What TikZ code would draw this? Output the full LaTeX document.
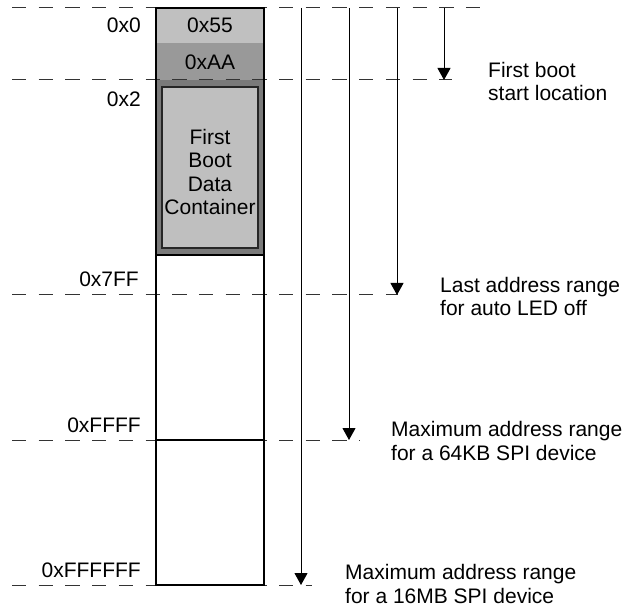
\documentclass[tikz,border=0pt]{standalone}
\usepackage{fontspec}
\setmainfont{Liberation Sans}
\usetikzlibrary{arrows.meta}
\definecolor{gLight}{HTML}{C0C0C0}
\definecolor{gMid}{HTML}{999999}
\definecolor{gOuter}{HTML}{7A7A7A}
\definecolor{gInner}{HTML}{BFBFBF}
\begin{document}
\begin{tikzpicture}[x=1pt,y=-1pt,
  every node/.style={font=\fontsize{21}{23.5}\selectfont, inner sep=0pt},
  guide/.style={dash pattern=on 14.3pt off 12.4pt, line width=1pt, draw=black!80},
  memline/.style={line width=2pt},
  pointer/.style={line width=1pt, -{Triangle[width=13pt,length=12pt]}},
  addr/.style={anchor=base east},
  note/.style={anchor=base west, align=left}]
\useasboundingbox (0,0) rectangle (626,609);
% memory cells
\fill[gLight] (156,8) rectangle (264,43);
\fill[gMid] (156,43) rectangle (264,80);
\fill[gOuter] (156,80) rectangle (264,255);
\node[draw=black!85, line width=1.5pt, fill=gInner, minimum width=96pt, minimum height=161pt] (fbdc) at (210,167.5) {};
\node[align=center] (fbdctext) at (210,172) {First\\Boot\\Data\\Container};
\node[anchor=base] (c55) at (210,33) {0x55};
\node[anchor=base] (cAA) at (210,70) {0xAA};
% guide coordinates
\coordinate (g0a) at (12,8);   \coordinate (g0b) at (490,8);
\coordinate (g1a) at (12,80);  \coordinate (g1b) at (452,80);
\coordinate (g2a) at (12,295); \coordinate (g2b) at (398,295);
\coordinate (g3a) at (12,440); \coordinate (g3b) at (360,440);
\coordinate (g4a) at (12,585); \coordinate (g4b) at (312,585);
\draw[guide] (g0a) -- (g0b);
\draw[guide] (g1a) -- (g1b);
\draw[guide] (g2a) -- (g2b);
\draw[guide] (g3a) -- (g3b);
\draw[guide] (g4a) -- (g4b);
% memory outline
\coordinate (mtl) at (156,8); \coordinate (mbr) at (264,585);
\draw[memline] (mtl) rectangle (mbr);
\coordinate (s1a) at (156,255); \coordinate (s1b) at (264,255);
\coordinate (s2a) at (156,440); \coordinate (s2b) at (264,440);
\draw[memline] (s1a) -- (s1b);
\draw[memline] (s2a) -- (s2b);
% range arrows
\coordinate (a1s) at (444,8); \coordinate (a1e) at (444,80);
\coordinate (a2s) at (397,8); \coordinate (a2e) at (397,295);
\coordinate (a3s) at (349,8); \coordinate (a3e) at (349,440);
\coordinate (a4s) at (301,8); \coordinate (a4e) at (301,585);
\draw[pointer] (a1s) -- (a1e);
\draw[pointer] (a2s) -- (a2e);
\draw[pointer] (a3s) -- (a3e);
\draw[pointer] (a4s) -- (a4e);
% addresses
\node[addr] (ad0) at (141,33) {0x0};
\node[addr] (ad2) at (141,107) {0x2};
\node[addr] (ad7ff) at (139,287) {0x7FF};
\node[addr] (adffff) at (141,432) {0xFFFF};
\node[addr] (adffffff) at (141,577) {0xFFFFFF};
% notes (base = last line baseline)
\node[note] (n1) at (488,101) {First boot\\start location};
\node[note] (n2) at (440,316) {Last address range\\for auto LED off};
\node[note] (n3) at (391,460) {Maximum address range\\for a 64KB SPI device};
\node[note] (n4) at (345,603) {Maximum address range\\for a 16MB SPI device};
\end{tikzpicture}
\end{document}
